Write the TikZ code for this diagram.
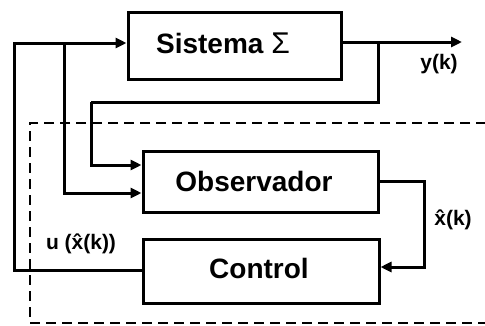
\documentclass[tikz,border=0pt]{standalone}
\usepackage{fontspec}
\setmainfont{Liberation Sans}
\usetikzlibrary{arrows.meta}
\begin{document}
\begin{tikzpicture}[x=1pt,y=-1pt,
  blk/.style={draw,line width=3pt,minimum height=#1,inner sep=0pt},
  ttl/.style={font=\fontsize{28}{30}\selectfont\bfseries,inner sep=0pt},
  lbl/.style={font=\fontsize{21}{23}\selectfont\bfseries,inner sep=0pt},
  wire/.style={line width=3pt},
  arr/.style={wire,-{Triangle[length=11pt,width=10pt]}},
  dsh/.style={line width=2.6pt,dash pattern=on 10pt off 6pt}]
\useasboundingbox (0,0) rectangle (485,325);
\node[blk=67pt,minimum width=213pt] (sys) at (234.5,45.5) {};
\node[ttl] (systxt) at (223,43) {Sistema {\mdseries\fontsize{30}{32}\selectfont Σ}};
\node[blk=61pt,minimum width=235pt] (obs) at (260.5,181.5) {};
\node[ttl] (obstxt) at (254,181) {Observador};
\node[blk=64pt,minimum width=236pt] (ctl) at (261,271) {};
\node[ttl] (ctltxt) at (259,268) {Control};
% coordinates
\coordinate (ul) at (14,43);
\coordinate (uj) at (64,43);
\coordinate (yj) at (378,42);
\coordinate (yend) at (462,42);
\coordinate (fb1) at (378,102);
\coordinate (fb2) at (91,102);
\coordinate (xo) at (424,181);
\coordinate (d1) at (486,123);
\coordinate (d2) at (30,123);
\coordinate (d3) at (30,323);
\coordinate (d4) at (486,323);
% connectors
\draw[arr] (ctl.west |- 0,270) -| (ul) -- (sys.west |- ul);
\draw[arr] (uj) |- (obs.west |- 0,193);
\draw[arr] (sys.east |- yj) -- (yend);
\draw[wire] (yj) -- (fb1) -- (fb2);
\draw[arr] (fb2) |- (obs.west |- 0,165);
\draw[arr] (obs.east |- xo) -- (xo) |- (ctl.east |- 0,267);
\draw[dsh] (d1) -- (d2) -- (d3) -- (d4);
% labels
\node[lbl] (ylbl) at (439,64) {y(k)};
\node[lbl] (xlbl) at (453,220) {\^{x}(k)};
\node[lbl] (ulbl) at (81,244) {u (\^{x}(k))};
\end{tikzpicture}
\end{document}
